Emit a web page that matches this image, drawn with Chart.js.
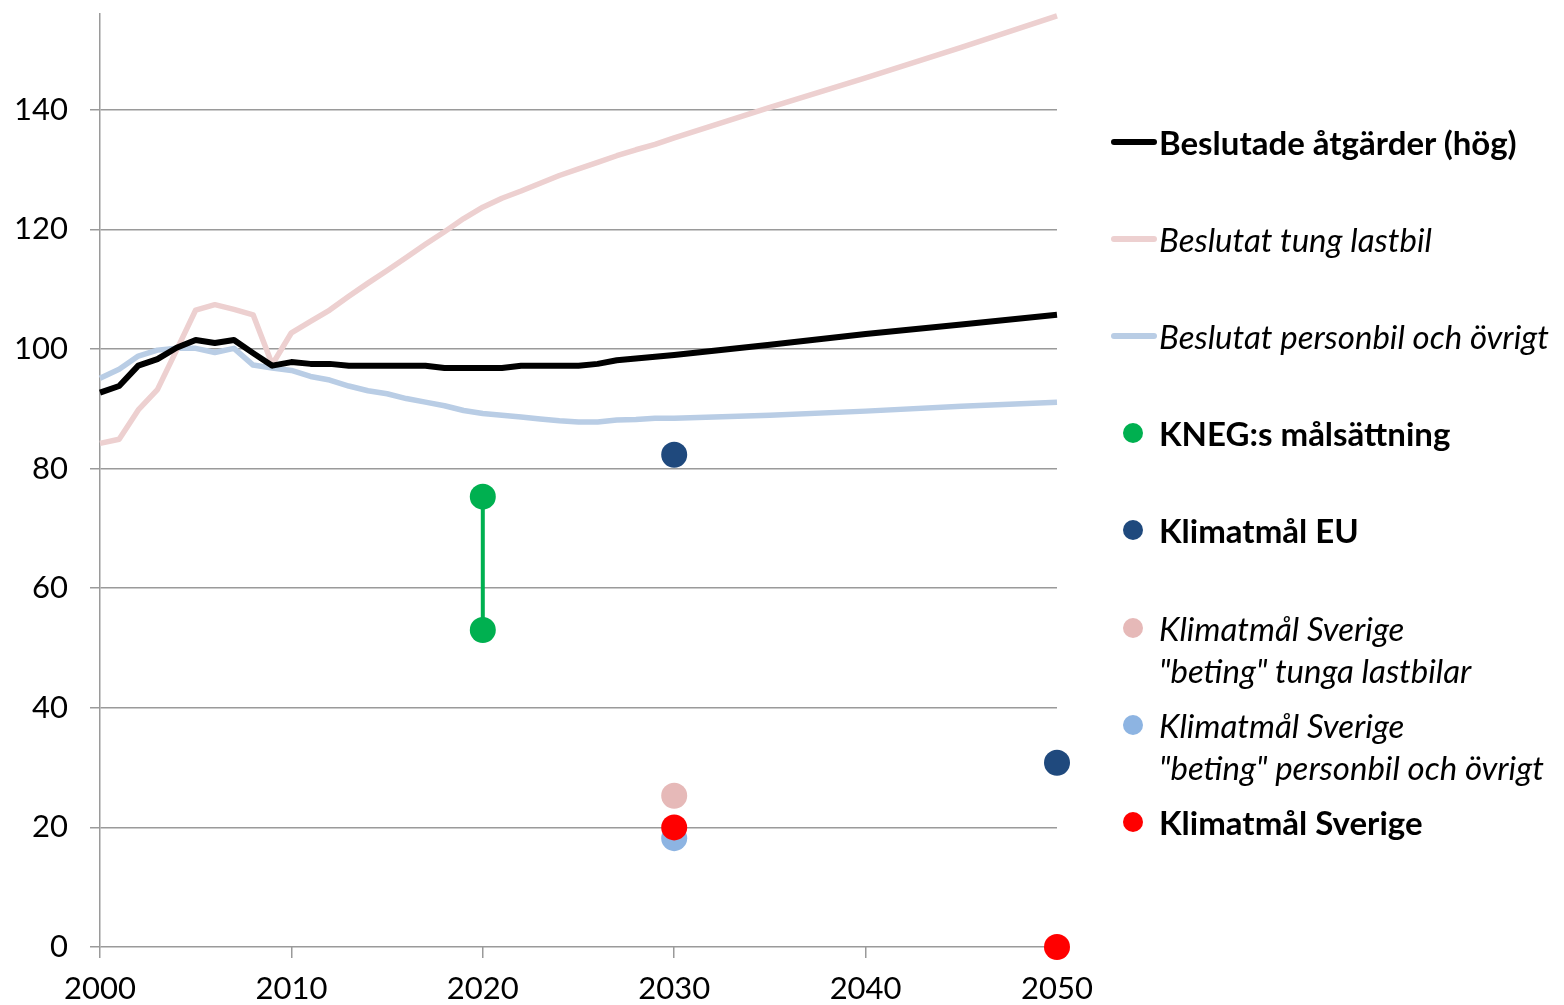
<!DOCTYPE html>
<html>
<head>
<meta charset="utf-8">
<script src="https://cdn.jsdelivr.net/npm/chart.js@4.4.1/dist/chart.umd.min.js"></script>
<style>
  html, body { margin: 0; padding: 0; background: #fff; }
  #wrap { position: relative; width: 1564px; height: 1005px; }
  #chart { position: absolute; left: 0; top: 0; }
  .leg { position: absolute; font-family: Lato, 'Open Sans', sans-serif; font-size: 33px; color: #000; white-space: nowrap; line-height: 42px; }
  .leg .ln { position: absolute; left: -48px; top: 18px; width: 46px; height: 6px; border-radius: 3px; }
  .leg .dot { position: absolute; left: -36px; top: 11px; width: 20px; height: 20px; border-radius: 50%; }
  .b { font-weight: bold; }
  .i { font-style: italic; }
</style>
</head>
<body>
<div id="wrap">
  <canvas id="chart" width="1564" height="1005"></canvas>
  <div class="leg b" style="left:1159px; top:121px"><span class="ln" style="background:#000"></span>Beslutade åtgärder (hög)</div>
  <div class="leg i" style="left:1159px; top:218px"><span class="ln" style="background:#EDD0D0"></span>Beslutat tung lastbil</div>
  <div class="leg i" style="left:1159px; top:315px"><span class="ln" style="background:#B9CDE5"></span>Beslutat personbil och övrigt</div>
  <div class="leg b" style="left:1159px; top:412px"><span class="dot" style="background:#00B050"></span>KNEG:s målsättning</div>
  <div class="leg b" style="left:1159px; top:509px"><span class="dot" style="background:#1F497D"></span>Klimatmål EU</div>
  <div class="leg i" style="left:1159px; top:607px"><span class="dot" style="background:#E6B9B8"></span>Klimatmål Sverige<br>"beting" tunga lastbilar</div>
  <div class="leg i" style="left:1159px; top:704px"><span class="dot" style="background:#8DB4E2"></span>Klimatmål Sverige<br>"beting" personbil och övrigt</div>
  <div class="leg b" style="left:1159px; top:801px"><span class="dot" style="background:#FF0000"></span>Klimatmål Sverige</div>
</div>
<script>
// years for the three projection lines
const years = [2000, 2001, 2002, 2003, 2004, 2005, 2006, 2007, 2008, 2009,
    2010, 2011, 2012, 2013, 2014, 2015, 2016, 2017, 2018, 2019,
    2020, 2021, 2022, 2023, 2024, 2025, 2026, 2027, 2028, 2029,
    2030, 2035, 2040, 2045, 2050];

const beslutadeHog = [92.7, 93.8, 97.2, 98.3, 100.2, 101.5, 101.0, 101.5, 99.3, 97.2,
    97.8, 97.5, 97.5, 97.2, 97.2, 97.2, 97.2, 97.2, 96.8, 96.8,
    96.8, 96.8, 97.2, 97.2, 97.2, 97.2, 97.5, 98.1, 98.4, 98.7,
    99.0, 100.7, 102.5, 104.1, 105.7];

const tungLastbil = [84.2, 84.9, 89.8, 93.2, 99.8, 106.5, 107.4, 106.6, 105.7, 97.4,
    102.7, 104.6, 106.5, 108.8, 111.0, 113.1, 115.3, 117.5, 119.6, 121.8,
    123.7, 125.2, 126.4, 127.7, 129.0, 130.1, 131.2, 132.3, 133.3, 134.2,
    135.3, 140.4, 145.3, 150.4, 155.7];

const personbil = [95.1, 96.6, 98.8, 99.8, 100.1, 100.1, 99.4, 100.1, 97.3, 96.8,
    96.4, 95.4, 94.8, 93.8, 93.0, 92.5, 91.7, 91.1, 90.5, 89.7,
    89.2, 88.9, 88.6, 88.3, 88.0, 87.8, 87.8, 88.1, 88.2, 88.4,
    88.4, 88.9, 89.6, 90.4, 91.1];

// target points
const knegYears = [2020, 2020];
const knegValues = [75.3, 53.0];
const euYears = [2030, 2050];
const euValues = [82.3, 30.8];
const betingTungYears = [2030];
const betingTungValues = [25.3];
const betingPersonYears = [2030];
const betingPersonValues = [18.2];
const sverigeYears = [2030, 2050];
const sverigeValues = [20.0, 0];

const yTicks = [0, 20, 40, 60, 80, 100, 120, 140];
const xTicks = [2000, 2010, 2020, 2030, 2040, 2050];

const pts = (xs, ys) => xs.map((x, i) => ({ x, y: ys[i] }));

const tickFont = { family: "Lato, 'Open Sans', sans-serif", size: 31 };
const gridGray = '#9a9a9a';

function lineSet(label, data, color, width, order) {
    return {
        label, data: pts(years, data), showLine: true,
        borderColor: color, borderWidth: width, pointRadius: 0,
        tension: 0, order, borderJoinStyle: 'round', clip: false
    };
}

function dotSet(label, xs, ys, color, order, joined) {
    return {
        label, data: pts(xs, ys), showLine: !!joined,
        borderColor: color, borderWidth: 4,
        pointRadius: 13, pointBackgroundColor: color, pointBorderWidth: 0,
        order, clip: false
    };
}

new Chart(document.getElementById('chart'), {
    type: 'scatter',
    data: {
        datasets: [
            lineSet('Beslutade åtgärder (hög)', beslutadeHog, '#000000', 6, 6),
            lineSet('Beslutat tung lastbil', tungLastbil, '#EDD0D0', 5.5, 7),
            lineSet('Beslutat personbil och övrigt', personbil, '#B9CDE5', 5.5, 8),
            dotSet('KNEG:s målsättning', knegYears, knegValues, '#00B050', 5, true),
            dotSet('Klimatmål EU', euYears, euValues, '#1F497D', 4),
            dotSet('Klimatmål Sverige "beting" tunga lastbilar', betingTungYears, betingTungValues, '#E6B9B8', 3),
            dotSet('Klimatmål Sverige "beting" personbil och övrigt', betingPersonYears, betingPersonValues, '#8DB4E2', 2),
            dotSet('Klimatmål Sverige', sverigeYears, sverigeValues, '#FF0000', 1)
        ]
    },
    options: {
        responsive: false,
        animation: false,
        layout: { padding: { top: 14, right: 507, left: 0, bottom: 0 } },
        plugins: { legend: { display: false }, tooltip: { enabled: false } },
        scales: {
            x: {
                type: 'linear', min: 2000, max: 2050,
                afterBuildTicks: s => { s.ticks = xTicks.map(v => ({ value: v })); },
                afterFit: s => { s.height = 58; s.paddingLeft = 0; s.paddingRight = 0; },
                ticks: { font: tickFont, color: '#000', padding: 12, maxRotation: 0, callback: v => String(v) },
                grid: { drawOnChartArea: false, drawTicks: true, tickLength: 11, color: gridGray, lineWidth: 1.5 },
                border: { display: false }
            },
            y: {
                min: 0, max: 156,
                afterBuildTicks: s => { s.ticks = yTicks.map(v => ({ value: v })); },
                afterFit: s => { s.width = 100; s.paddingTop = 0; s.paddingBottom = 0; },
                ticks: { font: tickFont, color: '#000', padding: 22, callback: v => String(v) },
                grid: { color: gridGray, lineWidth: 1.5, tickLength: 10 },
                border: { color: gridGray, width: 1.5 }
            }
        }
    }
});
</script>
</body>
</html>
